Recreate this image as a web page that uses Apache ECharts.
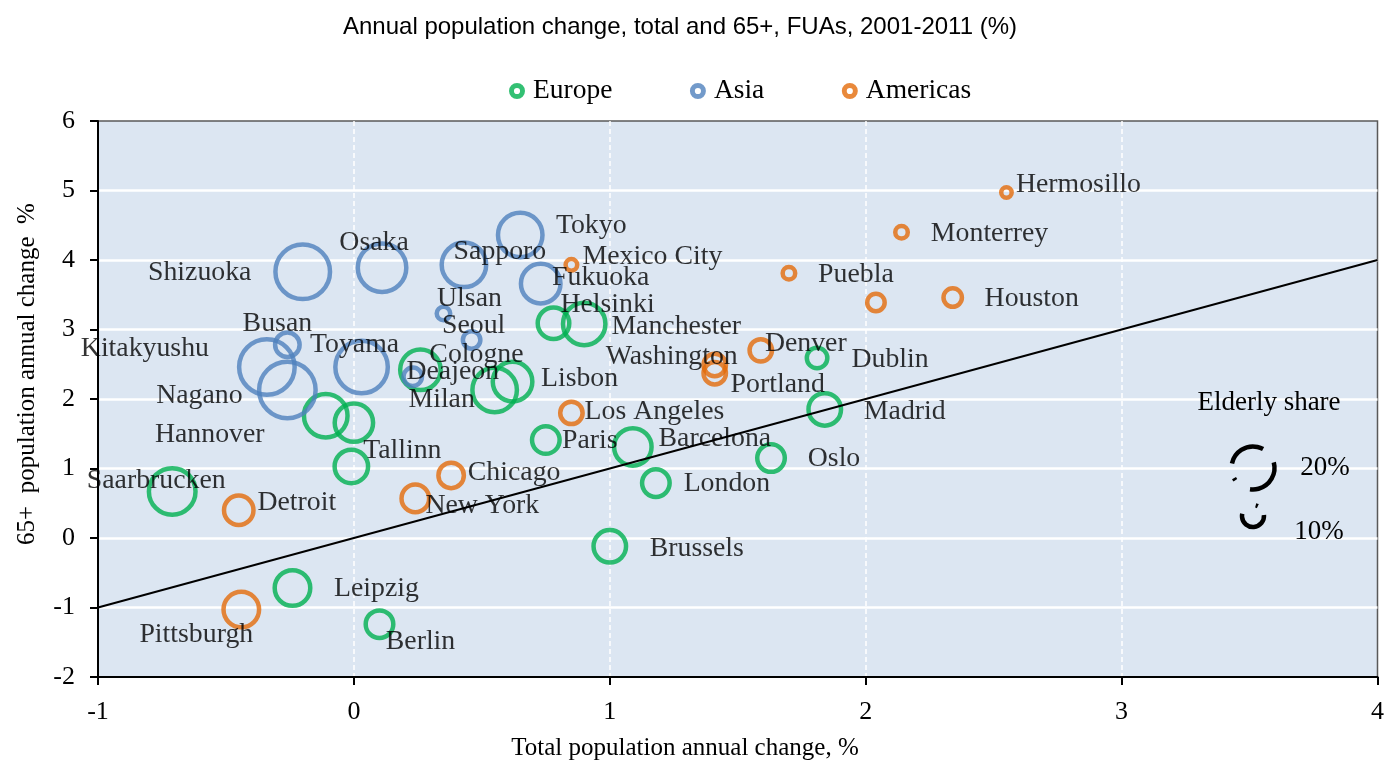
<!DOCTYPE html>
<html><head><meta charset="utf-8">
<script src="https://cdn.jsdelivr.net/npm/echarts@6/dist/echarts.min.js"></script>
<style>html,body{margin:0;padding:0;background:#fff}#c{width:1387px;height:762px}</style>
</head><body><div id="c"></div>
<script>
// ---- Data ----
const europeNames  = ['Helsinki','Manchester','Cologne','Milan','Lisbon','Hannover','','Paris','Barcelona','Tallinn','Saarbrucken','London','Oslo','Madrid','Dublin','Brussels','Leipzig','Berlin'];
const europeTotal  = [0.78, 0.90, 0.26, 0.55, 0.62, -0.11, 0.00, 0.75, 1.09, -0.01, -0.71, 1.18, 1.63, 1.84, 1.81, 1.00, -0.24, 0.10];
const europe65     = [3.09, 3.08, 2.42, 2.13, 2.25, 1.76, 1.66, 1.41, 1.31, 1.03, 0.67, 0.79, 1.15, 1.85, 2.59, -0.12, -0.72, -1.24];
const europeShare  = [14.5, 19.1, 18.3, 20.0, 17.9, 19.6, 17.4, 12.8, 17.0, 15.3, 20.9, 12.8, 12.8, 14.9, 9.8, 14.9, 16.2, 12.8];

const asiaNames    = ['Shizuoka','Osaka','Sapporo','Ulsan','Seoul','Busan','Kitakyushu','Nagano','Toyama','Deajeon','Tokyo','Fukuoka'];
const asiaTotal    = [-0.20, 0.11, 0.43, 0.35, 0.46, -0.26, -0.34, -0.26, 0.03, 0.23, 0.65, 0.73];
const asia65       = [3.83, 3.89, 3.93, 3.23, 2.85, 2.78, 2.46, 2.13, 2.46, 2.32, 4.36, 3.66];
const asiaShare    = [24.3, 21.7, 20.0, 6.8, 8.5, 11.5, 24.7, 25.1, 23.4, 8.9, 20.0, 17.9];

const americasNames = ['Hermosillo','Monterrey','Puebla','','Houston','Mexico City','Denver','Washington','Portland','Los Angeles','Chicago','New York','Detroit','Pittsburgh'];
const americasTotal = [2.55, 2.14, 1.70, 2.04, 2.34, 0.85, 1.59, 1.41, 1.41, 0.85, 0.38, 0.24, -0.45, -0.44];
const americas65    = [4.97, 4.40, 3.81, 3.39, 3.46, 3.93, 2.70, 2.49, 2.37, 1.80, 0.90, 0.57, 0.40, -1.03];
const americasShare = [5.5, 6.4, 6.4, 8.5, 8.9, 6.0, 10.6, 10.6, 10.6, 10.6, 11.9, 12.8, 13.6, 16.2];

const xTicks = [-1, 0, 1, 2, 3, 4];
const yTicks = [-2, -1, 0, 1, 2, 3, 4, 5, 6];
const parityLine = [[-1, -1], [4, 4]];   // y = x reference line

// ---- Layout: label offsets (px) from bubble centre ----
const labelOffsets = {
  'Shizuoka':[-103,1],'Osaka':[-8,-25],'Sapporo':[36,-13],'Ulsan':[26,-15],'Seoul':[2,-14],'Busan':[-10,-21],
  'Kitakyushu':[-122,-18],'Nagano':[-88,6],'Toyama':[-7,-22],'Deajeon':[40,-5],'Tokyo':[71,-9],'Fukuoka':[60,-6],
  'Helsinki':[54,-19],'Manchester':[92,3],'Cologne':[56,-15],'Milan':[-53,10],'Lisbon':[67,-3],'Hannover':[-116,19],
  'Paris':[44,1],'Barcelona':[82,-8],'Tallinn':[51,-16],'Saarbrucken':[-16,-11],'London':[71,1],'Oslo':[63,1],
  'Madrid':[80,2],'Dublin':[73,2],'Brussels':[87,2],'Leipzig':[84,1],'Berlin':[41,18],
  'Hermosillo':[72,-8],'Monterrey':[88,1],'Puebla':[67,1],'Houston':[79,1],'Mexico City':[81,-8],'Denver':[45,-7],
  'Washington':[-43,-8],'Portland':[63,11],'Los Angeles':[83,-1],'Chicago':[63,-3],'New York':[67,7],'Detroit':[58,-8],
  'Pittsburgh':[-45,25]
};

const COLORS = { Europe: '#00B050', Asia: '#4F81BD', Americas: '#E46C0A' };
const SERIF = '"Liberation Serif", "Times New Roman", serif';
const SANS = '"Liberation Sans", Arial, sans-serif';
const RING_ICON = 'path://M0,-6.5A6.5,6.5,0,1,1,0,6.5A6.5,6.5,0,1,1,0,-6.5ZM0,-2.5A2.5,2.5,0,1,0,0,2.5A2.5,2.5,0,1,0,0,-2.5Z';

function build(names, xs, ys, shares) {
  return names.map((n, i) => ({
    name: n,
    value: [xs[i], ys[i], shares[i]],
    label: n ? { offset: labelOffsets[n] || [0,0] } : { show: false }
  }));
}

function bubbleSeries(name, data) {
  return {
    name: name, type: 'scatter', data: data,
    symbol: 'circle',
    symbolSize: v => 2.35 * v[2] - 2.5,
    itemStyle: { color: 'rgba(0,0,0,0)', borderColor: COLORS[name], borderWidth: 4.5 },
    label: { show: true, position: 'inside', formatter: '{b}', color: '#000', textBorderWidth: 0,
             fontFamily: SERIF, fontSize: 27.8 },
    emphasis: { disabled: true },
    z: 3
  };
}

const chart = echarts.init(document.getElementById('c'), null, { renderer: 'canvas' });
const deg = Math.PI / 180;
const T = (x, y, text, font, extra) => Object.assign({ type: 'text', x: x, y: y, z: 100,
  style: { text: text, font: font, fill: '#000', align: 'center', verticalAlign: 'middle' } }, extra || {});
const A = (cx, cy, r, a0, a1) => ({ type: 'arc', z: 100,
  shape: { cx: cx, cy: cy, r: r, startAngle: a0 * deg, endAngle: a1 * deg, clockwise: true },
  style: { stroke: '#000', lineWidth: 4.5, fill: null } });

chart.setOption({
  animation: false,
  backgroundColor: '#fff',
  grid: { left: 98, right: 5, top: 121, bottom: 85, show: true, backgroundColor: '#DCE6F2', borderColor: '#595959', borderWidth: 1.5 },
  legend: {
    data: ['Europe', 'Asia', 'Americas'].map(n => ({ name: n, icon: RING_ICON,
      itemStyle: { color: COLORS[n], borderWidth: 0 } })),
    itemWidth: 16, itemHeight: 16, itemGap: 77.5,
    left: 504, top: 72,
    textStyle: { fontFamily: SERIF, fontSize: 27.5, color: '#000', padding: [0, 0, 0, 3] }
  },
  xAxis: {
    type: 'value', min: xTicks[0], max: xTicks[xTicks.length - 1], interval: 1,
    axisLine: { show: true, onZero: false, lineStyle: { color: '#000', width: 2 } },
    axisTick: { show: true, length: 8, lineStyle: { color: '#000', width: 2 } },
    axisLabel: { margin: 22, fontFamily: SERIF, fontSize: 26, color: '#000' },
    splitLine: { show: true, showMinLine: false, showMaxLine: false, lineStyle: { color: '#ffffff', width: 1.5, type: [5, 3] } }
  },
  yAxis: {
    type: 'value', min: yTicks[0], max: yTicks[yTicks.length - 1], interval: 1,
    axisLine: { show: true, onZero: false, lineStyle: { color: '#000', width: 2 } },
    axisTick: { show: true, length: 8, lineStyle: { color: '#000', width: 2 } },
    axisLabel: { margin: 23, fontFamily: SERIF, fontSize: 26, color: '#000' },
    splitLine: { show: true, showMinLine: false, showMaxLine: false, lineStyle: { color: '#ffffff', width: 2.5 } }
  },
  series: [
    bubbleSeries('Europe', build(europeNames, europeTotal, europe65, europeShare)),
    bubbleSeries('Asia', build(asiaNames, asiaTotal, asia65, asiaShare)),
    bubbleSeries('Americas', build(americasNames, americasTotal, americas65, americasShare)),
    { type: 'line', data: parityLine, symbol: 'none', silent: true, z: 5,
      lineStyle: { color: '#000', width: 2 } }
  ],
  graphic: [
    T(680, 27, 'Annual population change, total and 65+, FUAs, 2001-2011 (%)', '24px ' + SANS),
    T(685, 748, 'Total population annual change, %', '25px ' + SERIF),
    T(27, 374, '65+  population annual change  %', '25px ' + SERIF, { rotation: Math.PI / 2 }),
    T(1269, 403, 'Elderly share', '27px ' + SERIF),
    T(1325, 468, '20%', '27px ' + SERIF),
    T(1319, 532, '10%', '27px ' + SERIF),
    A(1253, 468, 21.5, 192, 298),
    A(1253, 468, 21.5, 345, 458),
    A(1253, 468, 21.5, 145, 152),
    A(1253, 516, 11, -5, 192),
    A(1253, 516, 11, 284, 296)
  ]
});
</script>
</body></html>
